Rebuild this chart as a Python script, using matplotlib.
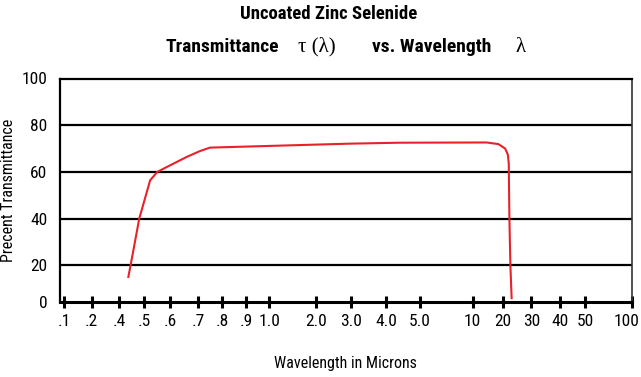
# Uncoated ZnSe transmittance curve on the catalogue's odd wavelength axis
import numpy as np
import matplotlib.pyplot as plt
from matplotlib.ticker import FixedLocator, NullLocator
from matplotlib.transforms import ScaledTranslation

plt.rcParams['font.family'] = ['DejaVu Sans Condensed', 'Liberation Sans Narrow',
                               'Roboto Condensed', 'Roboto', 'DejaVu Sans']
plt.rcParams['font.stretch'] = 'condensed'

# data
wavelength = [0.434, 0.443, 0.479, 0.522, 0.549, 0.60, 0.657, 0.706, 0.747,
              2.98, 4.38, 13.8, 18.1, 20.7, 21.5, 21.8, 21.85, 22.0, 22.3, 22.7]
transmittance = [15.0, 20.0, 40.0, 56.4, 60.0, 62.8, 66.4, 68.9, 70.4,
                 72.1, 72.5, 72.6, 71.9, 70.0, 67.5, 63.5, 56.4, 39.7, 20.0, 5.9]

x_ticks = [0.1, 0.2, 0.4, 0.5, 0.6, 0.7, 0.8, 0.9, 1.0, 2.0, 3.0, 4.0, 5.0,
           10, 20, 30, 40, 50, 100]
x_labels = ['.1', '.2', '.4', '.5', '.6', '.7', '.8', '.9', '1.0', '2.0', '3.0',
            '4.0', '5.0', '10', '20', '30', '40', '50', '100']
y_ticks = [4.4, 20, 40, 60, 80, 100]
y_labels = ['0', '20', '40', '60', '80', '100']

# the printed axis is not a true log scale: each tick sits at its own place
LOG = np.log10(x_ticks)
POS = np.array([64, 91.7, 119.3, 144, 170, 198.3, 222.3, 246, 269.3, 316,
                350.7, 386, 420, 472.7, 502.7, 531.3, 560, 585.3, 631.7])
s0 = (POS[1] - POS[0]) / (LOG[1] - LOG[0])
s1 = (POS[-1] - POS[-2]) / (LOG[-1] - LOG[-2])


def fwd(x):
    lx = np.log10(np.maximum(np.asarray(x, dtype=float), 1e-9))
    y = np.interp(lx, LOG, POS)
    y = np.where(lx < LOG[0], POS[0] + (lx - LOG[0]) * s0, y)
    y = np.where(lx > LOG[-1], POS[-1] + (lx - LOG[-1]) * s1, y)
    return y


def inv(p):
    p = np.asarray(p, dtype=float)
    lx = np.interp(p, POS, LOG)
    lx = np.where(p < POS[0], LOG[0] + (p - POS[0]) / s0, lx)
    lx = np.where(p > POS[-1], LOG[-1] + (p - POS[-1]) / s1, lx)
    return 10 ** lx


fig = plt.figure(figsize=(6.41, 3.77), dpi=100)
ax = fig.add_axes([60 / 641, 1 - 301.7 / 377, (631.7 - 60) / 641, (301.7 - 78.5) / 377])

ax.set_xscale('function', functions=(fwd, inv))
ax.set_xlim(inv(60), 100)
ax.set_ylim(4.4, 100)

ax.plot(wavelength, transmittance, color='#e8212b', lw=1.5, solid_joinstyle='round')

for v in y_ticks[1:-1]:
    ax.axhline(v, color='black', lw=1.6, zorder=1)

ax.xaxis.set_major_locator(FixedLocator(x_ticks))
ax.xaxis.set_minor_locator(NullLocator())
ax.set_xticklabels(x_labels, fontsize=12.5)
ax.tick_params(axis='x', direction='inout', length=9, width=2.2, pad=4)
# last label nudged in so it stays on the page
last = ax.get_xticklabels()[-1]
last.set_transform(last.get_transform() + ScaledTranslation(-5 / 100, 0, fig.dpi_scale_trans))
ax.set_yticks(y_ticks)
ax.set_yticklabels(y_labels, fontsize=12.5)
ax.tick_params(axis='y', length=0, pad=9)

ax.spines['bottom'].set_linewidth(2.2)
ax.spines['left'].set_linewidth(1.6)
ax.spines['top'].set_linewidth(1.6)
ax.spines['right'].set_linewidth(1.2)
ax.spines['right'].set_color('#333333')

ax.set_xlabel('Wavelength in Microns', fontsize=11.5, labelpad=20)
fig.text(9 / 641, 1 - 190 / 377, 'Precent Transmittance', fontsize=11.5,
         rotation=90, ha='center', va='center')

# title, with the greek letters in a serif face like the original
fig.text(329 / 641, 1 - 14 / 377, 'Uncoated Zinc Selenide', fontsize=13.5,
         fontweight='bold', ha='center', va='center')
ty = 1 - 47 / 377
fig.text(165 / 641, ty, 'Transmittance', fontsize=14, fontweight='bold', va='center')
fig.text(298 / 641, ty, 'τ (λ)', fontsize=15, family=['Liberation Serif', 'DejaVu Serif'], va='center')
fig.text(372 / 641, ty, 'vs. Wavelength', fontsize=14, fontweight='bold', va='center')
fig.text(516 / 641, ty, 'λ', fontsize=15, family=['Liberation Serif', 'DejaVu Serif'], va='center')

fig.savefig('out.png', dpi=100)
